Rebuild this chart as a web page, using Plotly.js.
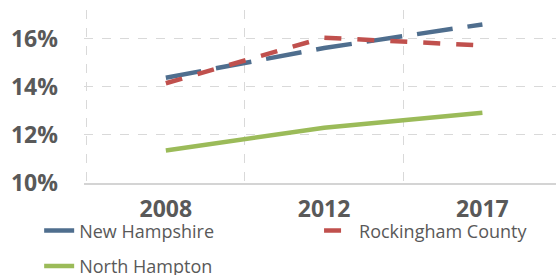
<!DOCTYPE html>
<html>
<head>
<meta charset="utf-8">
<script src="https://cdn.plot.ly/plotly-3.0.1.min.js"></script>
<style>
html,body{margin:0;padding:0;background:#fff;}
#chart{width:556px;height:275px;}
</style>
</head>
<body>
<div id="chart"></div>
<script>
var years = ['2008', '2012', '2017'];
var newHampshire = [14.38, 15.62, 16.6];
var rockingham = [14.15, 16.05, 15.72];
var northHampton = [11.35, 12.3, 12.92];
var seriesNames = ['New Hampshire', 'Rockingham County', 'North Hampton'];
var yTicks = [10, 12, 14, 16];
var yTickLabels = ['10%', '12%', '14%', '16%'];

var labelColor = '#595959';
var font = '"Open Sans", "Segoe UI", sans-serif';

var traces = [
  {x: years, y: newHampshire, name: seriesNames[0], type: 'scatter', mode: 'lines',
   line: {color: '#4F6E8E', width: 4.5, dash: '36px,15px'}, legend: 'legend'},
  {x: years, y: rockingham, name: seriesNames[1], type: 'scatter', mode: 'lines',
   line: {color: '#C0504D', width: 4.5, dash: '17px,16px'}, legend: 'legend2'},
  {x: years, y: northHampton, name: seriesNames[2], type: 'scatter', mode: 'lines',
   line: {color: '#9BBB59', width: 4.5}, legend: 'legend3'}
];

var legendBase = {orientation: 'h', xanchor: 'left', yanchor: 'middle',
  font: {family: font, size: 18, color: labelColor}, bgcolor: 'rgba(0,0,0,0)'};

var layout = {
  width: 556, height: 275,
  margin: {l: 84, r: 0, t: 10, b: 92, autoexpand: false},
  paper_bgcolor: '#ffffff', plot_bgcolor: '#ffffff',
  showlegend: true,
  xaxis: {
    type: 'category', range: [-0.517, 2.465], tickson: 'boundaries',
    showgrid: true, gridcolor: '#D9D9D9', griddash: 'dash', gridwidth: 1,
    showline: true, linecolor: '#D4D4D4', linewidth: 2,
    ticks: '', ticklabelstandoff: 4,
    tickfont: {family: font, size: 23, color: labelColor, weight: 'bold'}
  },
  yaxis: {
    range: [10, 17.2], tickmode: 'array', tickvals: yTicks, ticktext: yTickLabels,
    showgrid: true, gridcolor: '#D9D9D9', griddash: 'dash', gridwidth: 1,
    zeroline: false, showline: false, ticks: '', ticklabelstandoff: 25,
    tickfont: {family: font, size: 23, color: labelColor, weight: 'bold'}
  },
  legend: Object.assign({}, legendBase, {x: -0.095, y: -0.277}),
  legend2: Object.assign({}, legendBase, {x: 0.498, y: -0.277}),
  legend3: Object.assign({}, legendBase, {x: -0.095, y: -0.482})
};

Plotly.newPlot('chart', traces, layout, {displayModeBar: false, staticPlot: true});
</script>
</body>
</html>
